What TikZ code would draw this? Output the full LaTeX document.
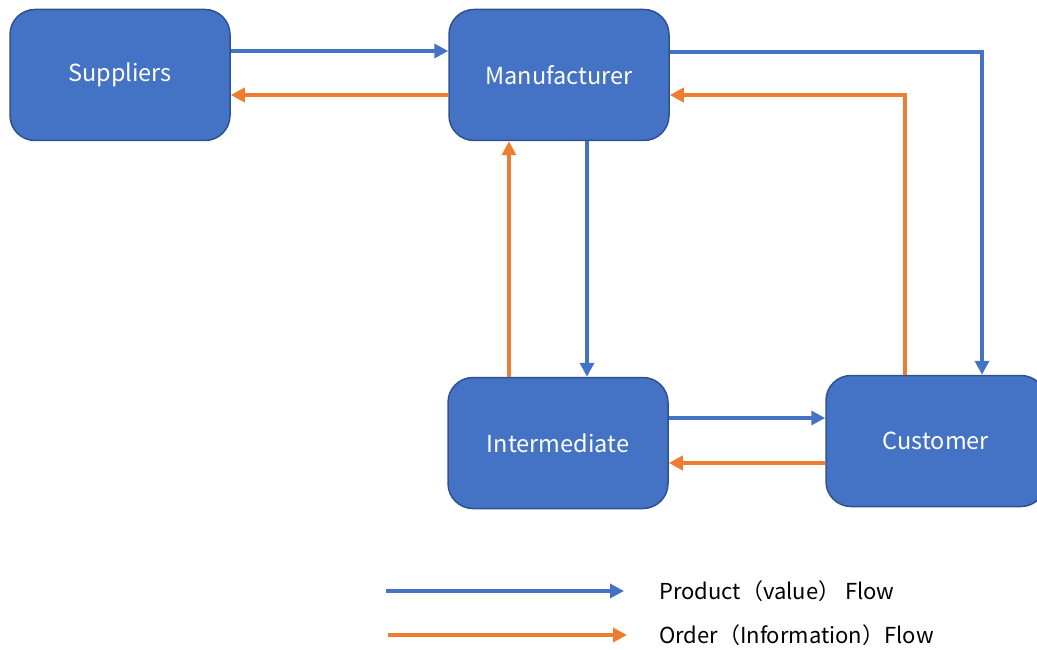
\documentclass[tikz,border=0pt]{standalone}
\usepackage{fontspec}
\setmainfont{Noto Sans CJK SC}
\usetikzlibrary{arrows.meta}
\definecolor{boxfill}{HTML}{4472C4}
\definecolor{boxline}{HTML}{2F528F}
\definecolor{flowblue}{HTML}{4472C4}
\definecolor{floworange}{HTML}{ED7D31}
\tikzset{
  party/.style={draw=boxline, line width=1.5pt, fill=boxfill, rounded corners=25pt,
    minimum width=220pt, minimum height=131pt, text=white, font=\fontsize{23.5}{27}\selectfont},
  product/.style={draw=flowblue, line width=4pt, -{Triangle[length=14pt,width=14pt]}},
  order/.style={draw=floworange, line width=4pt, -{Triangle[length=14pt,width=14pt]}},
  legendtext/.style={anchor=west, inner sep=0pt, font=\fontsize{22}{26}\selectfont}
}
\begin{document}
\begin{tikzpicture}[x=1pt, y=-1pt]
  \useasboundingbox (0,0) rectangle (1037,650);
  \clip (0,0) rectangle (1037,650);

  % parties in the chain
  \node[party] (sup) at (120,75)  {Suppliers};
  \node[party] (man) at (559,75)  {Manufacturer};
  \node[party] (int) at (558,443) {Intermediate};
  \node[party] (cus) at (936,441) {Customer};

  % product (value) flow
  \draw[product] ([yshift=24pt]sup.east) -- ([yshift=24pt]sup.east -| man.west);
  \draw[product] ([yshift=23pt]man.east) -| ([xshift=46pt]cus.north);
  \draw[product] ([xshift=28pt]man.south) -- ([xshift=28pt]man.south |- int.north);
  \draw[product] ([yshift=25pt]int.east) -- ([yshift=25pt]int.east -| cus.west);

  % order (information) flow
  \draw[order] ([yshift=-20pt]man.west) -- ([yshift=-20pt]man.west -| sup.east);
  \draw[order] ([xshift=-31pt]cus.north) |- ([yshift=-20pt]man.east);
  \draw[order] ([xshift=-49pt]int.north) -- ([xshift=-49pt]int.north |- man.south);
  \draw[order] ([yshift=-22pt]cus.west) -- ([yshift=-22pt]cus.west -| int.east);

  % legend
  \coordinate (lp1) at (386,591);
  \coordinate (lp2) at (624,591);
  \coordinate (lo1) at (388,635);
  \coordinate (lo2) at (627,635);
  \draw[product] (lp1) -- (lp2);
  \draw[order] (lo1) -- (lo2);
  \node[legendtext] (lpt) at (659,591) {Product（value） Flow};
  \node[legendtext] (lot) at (659,635) {Order（Information）Flow};
\end{tikzpicture}
\end{document}
